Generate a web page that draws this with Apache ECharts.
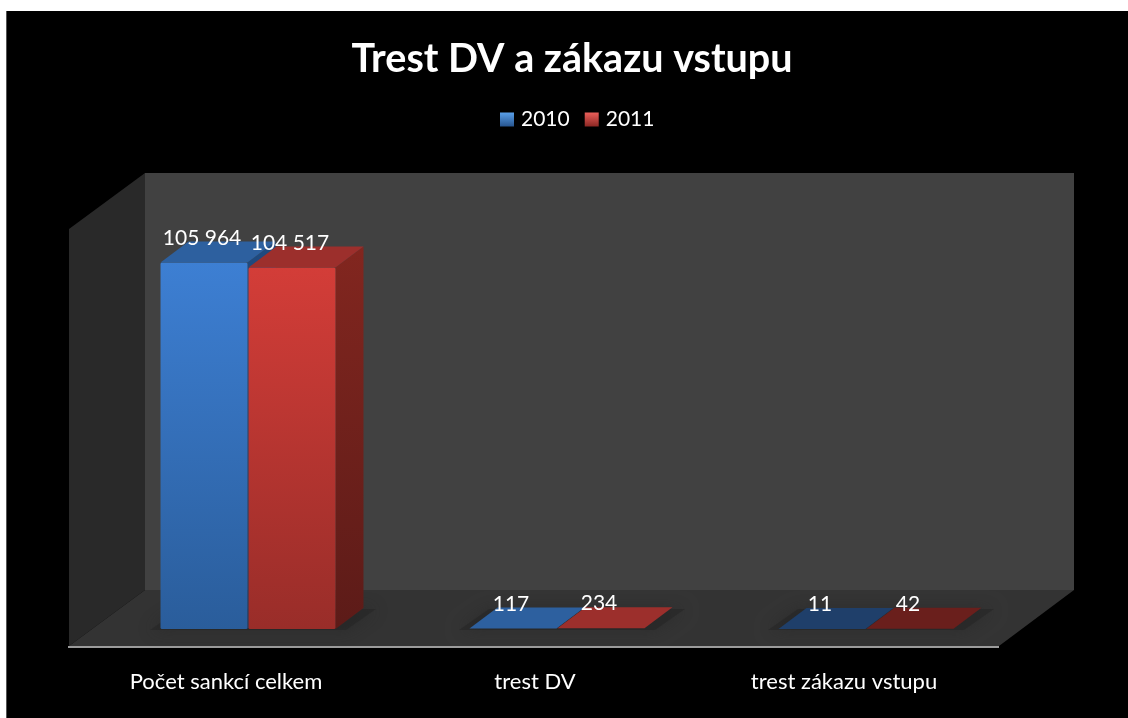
<!DOCTYPE html>
<html>
<head>
<meta charset="utf-8">
<style>html,body{margin:0;padding:0;background:#fff}#c{width:1128px;height:718px}</style>
<script src="https://cdn.jsdelivr.net/npm/echarts@6/dist/echarts.min.js"></script>
</head>
<body>
<div id="c"></div>
<script>
const categories = ['Počet sankcí celkem', 'trest DV', 'trest zákazu vstupu'];
const years = ['2010', '2011'];
const values2010 = [105964, 117, 11];
const values2011 = [104517, 234, 42];
const axisMax = 120000;

// styling only
const depthX = 28, depthY = 21, barShare = 0.2815;
const topColors = [['#2d609f', '#2d609f', '#1f3f6a'], ['#9c2f2c', '#9c2f2c', '#6a1f1c']];
const frontColors = [['#3d7fd3', '#2a5d9b'], ['#d33d38', '#992d29']];
const font = 'Lato, Carlito, "Open Sans", sans-serif';

const fmt = v => String(v).replace(/\B(?=(\d{3})+$)/g, '\u00a0');
const grad = (a, b) => new echarts.graphic.LinearGradient(0, 0, 0, 1, [{offset: 0, color: a}, {offset: 1, color: b}]);
const poly = (points, fill, extra) => Object.assign({type: 'polygon', shape: {points}, style: {fill}, silent: true}, extra || {});

function renderBar(params, api) {
  const s = params.seriesIndex, i = api.value(0), v = api.value(1);
  const base = api.coord([i, 0]), top = api.coord([i, v]);
  const band = api.size([1, 0])[0], w = band * barShare;
  const x0 = s === 0 ? base[0] - w - 0.5 : base[0] + 0.5, x1 = x0 + w;
  const y0 = base[1], y1 = Math.min(top[1], y0);
  const kids = [];
  if (s === 0) {
    const gx0 = base[0] - w - 11, gx1 = base[0] + w + 11;
    const shadow = {fill: 'rgba(36,36,36,0.55)', shadowBlur: 16, shadowColor: 'rgba(36,36,36,0.85)'};
    kids.push(poly([[gx0, y0 + 1], [gx1, y0 + 1], [gx1 + depthX + 2, y0 - depthY + 1], [gx0 + depthX + 2, y0 - depthY + 1]],
      shadow.fill, {style: shadow}));
  }
  if (y0 - y1 > 1) {
    kids.push(poly([[x1, y0], [x1 + depthX, y0 - depthY], [x1 + depthX, y1 - depthY], [x1, y1]],
      grad(s === 0 ? '#1f4a80' : '#82261f', s === 0 ? '#173a63' : '#5c1b18')));
    kids.push({type: 'rect', shape: {x: x0, y: y1, width: w, height: y0 - y1, r: 1.5}, style: {fill: grad(frontColors[s][0], frontColors[s][1])}, silent: true});
  }
  kids.push(poly([[x0, y1], [x1, y1], [x1 + depthX, y1 - depthY], [x0 + depthX, y1 - depthY]], topColors[s][i]));
  kids.push({type: 'text', z2: 20, silent: true, style: {
    text: fmt(v), x: (x0 + x1) / 2 - 2, y: y1 - 24.5, align: 'center', verticalAlign: 'middle',
    fill: '#ffffff', font: '21px ' + font
  }});
  return {type: 'group', children: kids};
}

const chart = echarts.init(document.getElementById('c'), null, {renderer: 'canvas', width: 1128, height: 718});
chart.setOption({
  animation: false,
  backgroundColor: '#ffffff',
  title: {text: 'Trest DV a zákazu vstupu', left: 567, top: 34, textAlign: 'center',
    textStyle: {color: '#fff', fontFamily: font, fontWeight: 'bold', fontSize: 39.5}},
  legend: {left: 495, top: 104, itemWidth: 14, itemHeight: 14, itemGap: 15,
    textStyle: {color: '#fff', fontFamily: font, fontSize: 21, padding: [0, 0, 0, 2]},
    data: [
      {name: years[0], icon: 'rect', itemStyle: {color: grad('#5aa0ea', '#27558f')}},
      {name: years[1], icon: 'rect', itemStyle: {color: grad('#ea5f5a', '#8c2723')}}
    ]},
  grid: {left: 93.5, width: 927, top: 214, height: 415, containLabel: false},
  xAxis: {type: 'category', data: categories, axisLine: {show: false}, axisTick: {show: false}, splitLine: {show: false},
    axisLabel: {color: '#fff', fontFamily: font, fontSize: 22, margin: 42, padding: [0, 44, 0, 0], interval: 0}},
  yAxis: {type: 'value', min: 0, max: axisMax, interval: 20000, show: false},
  graphic: {elements: [
    {type: 'rect', z: -10, silent: true, shape: {x: 6, y: 11, width: 1122, height: 707}, style: {fill: '#000'}},
    {type: 'rect', z: -10, silent: true, shape: {x: 6, y: 11, width: 1, height: 707}, style: {fill: '#555'}},
    {type: 'polygon', z: -9, silent: true, shape: {points: [[145, 173], [1074, 173], [1074, 590], [145, 590]]}, style: {fill: '#414141'}},
    {type: 'polygon', z: -9, silent: true, shape: {points: [[69, 229], [145, 173], [145, 590], [69, 646]]}, style: {fill: '#292929'}},
    {type: 'polygon', z: -9, silent: true, shape: {points: [[145, 590], [1074, 590], [999, 646], [69, 646]]}, style: {fill: '#333333'}},
    {type: 'rect', z: -8, silent: true, shape: {x: 68, y: 646, width: 931, height: 2}, style: {fill: '#9c9c9c'}}
  ]},
  series: [
    {name: years[0], type: 'custom', renderItem: renderBar, encode: {x: 0, y: 1}, itemStyle: {color: '#3d7fd3'},
      data: values2010.map((v, i) => [i, v])},
    {name: years[1], type: 'custom', renderItem: renderBar, encode: {x: 0, y: 1}, itemStyle: {color: '#d33d38'},
      data: values2011.map((v, i) => [i, v])}
  ]
});
</script>
</body>
</html>
